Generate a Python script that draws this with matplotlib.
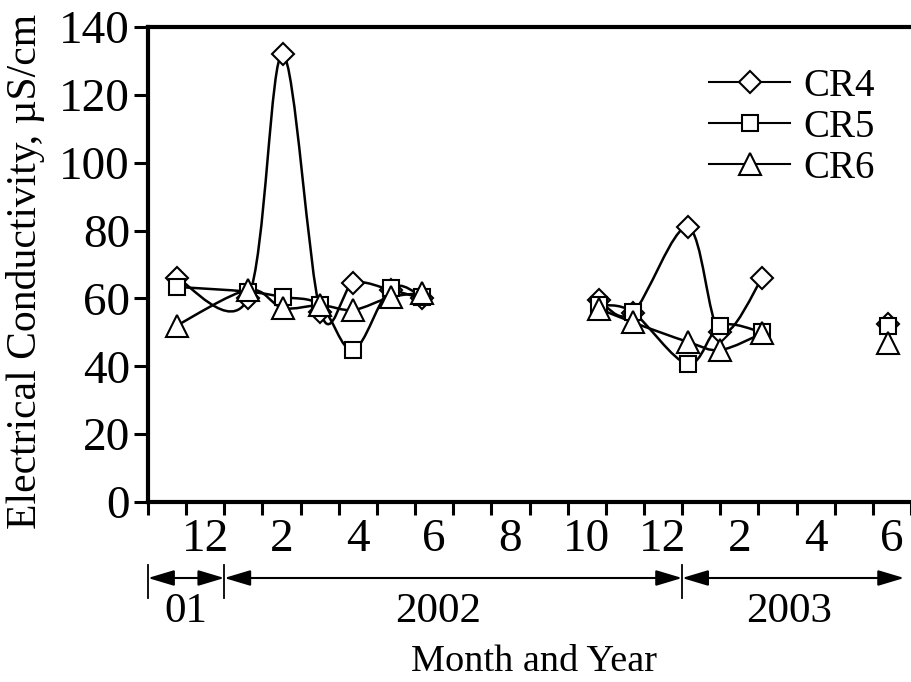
import numpy as np
import matplotlib.pyplot as plt
from matplotlib.path import Path
from matplotlib.patches import PathPatch
from matplotlib.lines import Line2D
import matplotlib.transforms as mtransforms

plt.rcParams['font.family'] = ['Liberation Serif', 'DejaVu Serif']

# months counted from the start of Nov 2001 (nan = gap in the record)
months = [0.75, 2.62, 3.53, 4.52, 5.38, 6.36, 7.19, np.nan,
          11.82, 12.70, 14.15, 15.0, 16.1, np.nan, 19.4]
cr4 = [66, 60, 132, 56, 64.5, 62.5, 60, np.nan,
       59.5, 55.7, 81, 50, 66, np.nan, 52.5]
cr5 = [63.4, 62, 60.4, 58, 44.8, 63, 60.5, np.nan,
       58, 56, 40.7, 52, 50, np.nan, 52]
cr6 = [52, 62.5, 57.2, 58, 56.6, 60.4, 61.6, np.nan,
       57, 53, 47.2, 44.8, 49.7, np.nan, 47]

tick_pos = [1.5, 3.5, 5.5, 7.5, 9.5, 11.5, 13.5, 15.5, 17.5, 19.5]
tick_labels = ['12', '2', '4', '6', '8', '10', '12', '2', '4', '6']

years = ['01', '2002', '2003']
year_bounds = [0, 2, 14, 19.82]


def smooth_path(xs, ys):
    # excel style smoothed line: cubic bezier through the points
    xs = np.asarray(xs, float)
    ys = np.asarray(ys, float)
    verts, codes = [], []
    ok = ~np.isnan(xs) & ~np.isnan(ys)
    runs, cur = [], []
    for i in range(len(xs)):
        if ok[i]:
            cur.append((xs[i], ys[i]))
        elif cur:
            runs.append(cur)
            cur = []
    if cur:
        runs.append(cur)
    for run in runs:
        p = np.array(run)
        n = len(p)
        if n < 2:
            continue
        verts.append(p[0])
        codes.append(Path.MOVETO)
        for i in range(n - 1):
            a = p[i - 1] if i > 0 else p[i]
            d = p[i + 2] if i + 2 < n else p[i + 1]
            c1 = p[i] + (p[i + 1] - a) / 6
            c2 = p[i + 1] - (d - p[i]) / 6
            verts += [c1, c2, p[i + 1]]
            codes += [Path.CURVE4] * 3
    return Path(verts, codes)


fig = plt.figure(figsize=(9.11, 6.82), dpi=100)
ax = fig.add_axes([148 / 911, 180 / 682, 1 - 148 / 911, 475 / 682])

series = [(cr4, 'D', 11, 'CR4'), (cr5, 's', 11.5, 'CR5'), (cr6, '^', 15.5, 'CR6')]
handles = []
for k, (vals, mk, ms, name) in enumerate(series):
    ax.add_patch(PathPatch(smooth_path(months, vals), fill=False,
                           edgecolor='k', lw=1.8, zorder=2))
    ax.plot(months, vals, ls='none', marker=mk, ms=ms, mfc='white',
            mec='k', mew=1.5, zorder=3 + k)
    handles.append(Line2D([0], [0], color='k', lw=1.5, marker=mk, ms=ms,
                          mfc='white', mec='k', mew=1.5, label=name))

ax.set_xlim(0, 19.82)
ax.set_ylim(0, 140)
ax.set_yticks(range(0, 141, 20))
ax.set_xticks(range(0, 21))
ax.set_xticklabels([])
ax.set_xticks(tick_pos, minor=True)
ax.set_xticklabels(tick_labels, minor=True)
ax.tick_params(axis='x', which='minor', length=0, labelsize=34, pad=12)
ax.tick_params(axis='x', which='major', direction='out', length=9, width=2.2)
ax.tick_params(axis='y', direction='out', length=10, width=2.2,
               labelsize=34, pad=3)
for s in ['left', 'bottom', 'top']:
    ax.spines[s].set_linewidth(3)
ax.spines['right'].set_visible(False)

ax.legend(handles=handles, loc='upper left', bbox_to_anchor=(0.735, 0.914),
          frameon=False, fontsize=28, handlelength=2.1, handletextpad=0.33,
          labelspacing=0.1, borderpad=0, borderaxespad=0)

# year spans under the month axis
trans = mtransforms.blended_transform_factory(ax.transData, ax.transAxes)
ya = -0.16
for b in year_bounds[:-1]:
    ax.plot([b, b], [-0.133, -0.202], color='k', lw=1.3, transform=trans,
            clip_on=False)
for i, name in enumerate(years):
    x0, x1 = year_bounds[i], year_bounds[i + 1]
    ax.annotate('', xy=(x1, ya), xytext=(x0, ya), xycoords=trans,
                textcoords=trans, annotation_clip=False,
                arrowprops=dict(arrowstyle='<|-|>,head_length=0.4,head_width=0.12',
                                color='k', lw=1.5, shrinkA=0, shrinkB=0,
                                mutation_scale=40))
year_x = [1.0, 7.6, 16.8]
for name, xc in zip(years, year_x):
    ax.text(xc, -0.232, name, transform=trans, ha='center', va='center',
            fontsize=31)

fig.text(534 / 911, 1 - 662 / 682, 'Month and Year', ha='center',
         va='center', fontsize=27.5)
fig.text(26 / 911, 1 - 271 / 682, 'Electrical Conductivity, µS/cm',
         rotation=90, ha='center', va='center', fontsize=30)

fig.savefig('out.png', dpi=100)
